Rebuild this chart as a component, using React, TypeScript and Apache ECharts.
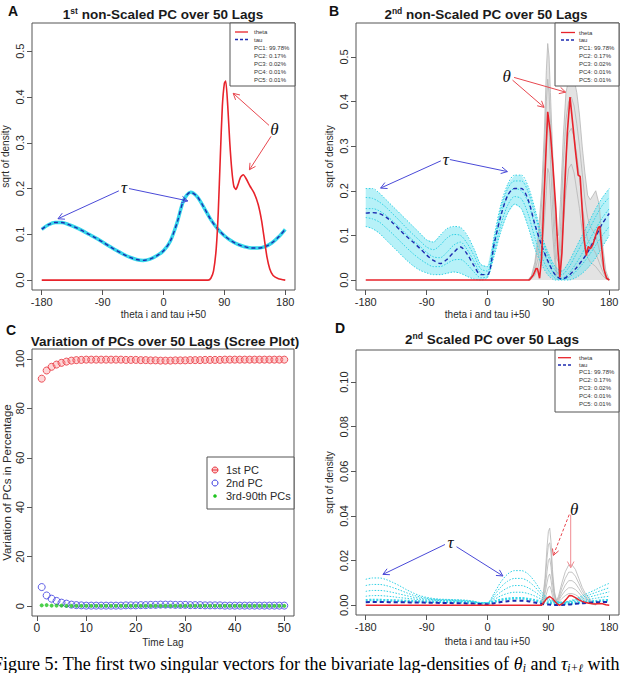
import { useEffect, useRef } from "react";
import * as echarts from "echarts";

const SANS = "'Liberation Sans', Arial, Helvetica, sans-serif";
const SERIF = "'Liberation Serif', 'Times New Roman', serif";

const RED = "#e8232b";
const CYAN = "#35d6ea";
const CYAN_DOT = "#2fd0e4";
const NAVY = "#1c2bb0";
const GREY = "#b5b5b5";
const ARROW_RED = "#e8474f";
const ARROW_PINK = "#f08c92";
const ARROW_BLUE = "#4a4ad8";
const TEXT = "#2a2a2a";
const BOX = "#555";

// angle grid in degrees (theta i and tau i+50)
const ANGLES = [
  -180, -170, -160, -150, -140, -130, -120, -110, -100,
  -90, -80, -70, -60, -50, -40, -30, -20, -10,
  0, 10, 20, 30, 40, 50, 60, 70, 80,
  90, 100, 110, 120, 130, 140, 150, 160, 170,
  180,
];

// ---- A: 1st non-scaled PC ----
const A_TAU = [
  0.111, 0.121, 0.126, 0.126, 0.121, 0.115, 0.108, 0.100, 0.092,
  0.083, 0.074, 0.065, 0.057, 0.050, 0.045, 0.043, 0.046, 0.053,
  0.064, 0.085, 0.125, 0.175, 0.192, 0.182, 0.158, 0.132, 0.112,
  0.097, 0.086, 0.078, 0.073, 0.070, 0.070, 0.073, 0.081, 0.094,
  0.111,
];
const A_THETA_X = [-180, 66, 70, 74, 78, 81, 84, 87, 90, 92, 95, 98, 101, 104, 107, 110, 114, 118, 122, 128, 134, 140, 145, 149, 153, 157, 162, 170, 180];
const A_THETA_Y = [0, 0, 0.004, 0.02, 0.07, 0.15, 0.27, 0.38, 0.43, 0.435, 0.38, 0.3, 0.24, 0.205, 0.198, 0.208, 0.225, 0.23, 0.222, 0.205, 0.19, 0.165, 0.13, 0.09, 0.05, 0.025, 0.01, 0.003, 0];

// ---- B: 2nd non-scaled PC ----
const B_TAU_MEAN = [
  0.150, 0.151, 0.149, 0.141, 0.128, 0.113, 0.098, 0.085, 0.071,
  0.056, 0.044, 0.037, 0.046, 0.062, 0.074, 0.058, 0.032, 0.012,
  0.012, 0.082, 0.145, 0.190, 0.205, 0.205, 0.180, 0.125, 0.078,
  0.040, 0.012, 0.002, 0.010, 0.025, 0.044, 0.067, 0.097, 0.127,
  0.149,
];
const B_TAU_UPPER = [
  0.205, 0.205, 0.195, 0.180, 0.165, 0.150, 0.135, 0.120, 0.105,
  0.090, 0.085, 0.100, 0.115, 0.120, 0.118, 0.100, 0.070, 0.035,
  0.030, 0.100, 0.170, 0.215, 0.235, 0.235, 0.210, 0.160, 0.100,
  0.060, 0.030, 0.020, 0.040, 0.070, 0.100, 0.130, 0.160, 0.185,
  0.205,
];
const B_TAU_MID1 = [
  0.185, 0.183, 0.175, 0.163, 0.148, 0.133, 0.117, 0.102, 0.088,
  0.074, 0.068, 0.078, 0.094, 0.102, 0.100, 0.082, 0.055, 0.025,
  0.020, 0.090, 0.160, 0.205, 0.222, 0.222, 0.198, 0.148, 0.092,
  0.052, 0.022, 0.012, 0.028, 0.055, 0.083, 0.112, 0.142, 0.168,
  0.185,
];
const B_TAU_MID2 = [
  0.160, 0.160, 0.155, 0.145, 0.132, 0.118, 0.103, 0.089, 0.076,
  0.062, 0.052, 0.050, 0.062, 0.078, 0.085, 0.068, 0.042, 0.015,
  0.012, 0.080, 0.148, 0.190, 0.205, 0.200, 0.175, 0.120, 0.075,
  0.038, 0.010, 0.004, 0.015, 0.035, 0.060, 0.088, 0.115, 0.140,
  0.160,
];
const B_TAU_MID3 = [
  0.140, 0.137, 0.130, 0.117, 0.103, 0.088, 0.073, 0.059, 0.047,
  0.037, 0.030, 0.030, 0.037, 0.045, 0.046, 0.035, 0.018, 0.005,
  0.008, 0.065, 0.125, 0.168, 0.187, 0.182, 0.148, 0.095, 0.052,
  0.022, 0.004, 0.001, 0.006, 0.018, 0.035, 0.055, 0.078, 0.100,
  0.120,
];
const B_TAU_LOWER = [
  0.120, 0.115, 0.105, 0.090, 0.075, 0.060, 0.045, 0.032, 0.022,
  0.016, 0.012, 0.012, 0.015, 0.018, 0.015, 0.008, 0.002, 0.000,
  0.005, 0.055, 0.110, 0.150, 0.170, 0.160, 0.120, 0.070, 0.035,
  0.010, 0.000, 0.000, 0.000, 0.005, 0.015, 0.030, 0.050, 0.075,
  0.100,
];
const B_THETA_X = [-180, 62, 68, 72, 74, 77, 80, 84, 89, 93, 97, 101, 104, 107, 110, 114, 118, 122, 126, 130, 134, 137, 140, 143, 146, 149, 152, 156, 160, 164, 166, 169, 172, 176, 180];
const B_THETA_Y = [0, 0, 0.012, 0.026, 0.025, 0.004, 0.05, 0.2, 0.377, 0.33, 0.25, 0.16, 0.07, 0.006, 0.06, 0.2, 0.33, 0.41, 0.35, 0.29, 0.235, 0.232, 0.157, 0.09, 0.055, 0.075, 0.07, 0.08, 0.1, 0.118, 0.12, 0.07, 0.025, 0.004, 0];
const B_LAG_X = [60, 65, 70, 75, 80, 84, 87, 89, 91, 93, 96, 99, 102, 105, 108, 112, 116, 120, 124, 128, 132, 136, 140, 144, 148, 152, 156, 160, 165, 170, 175, 180];
const B_LAG_1 = [0, 0.01, 0.04, 0.10, 0.20, 0.33, 0.47, 0.53, 0.50, 0.42, 0.30, 0.18, 0.10, 0.10, 0.18, 0.32, 0.42, 0.45, 0.46, 0.45, 0.42, 0.37, 0.30, 0.24, 0.19, 0.18, 0.19, 0.20, 0.17, 0.08, 0.02, 0];
const B_LAG_2 = [0, 0.008, 0.03, 0.08, 0.17, 0.28, 0.40, 0.45, 0.42, 0.35, 0.24, 0.13, 0.05, 0.04, 0.12, 0.26, 0.36, 0.40, 0.41, 0.39, 0.35, 0.30, 0.24, 0.18, 0.14, 0.12, 0.11, 0.10, 0.07, 0.035, 0.01, 0];
const B_LAG_3 = [0, 0.005, 0.02, 0.05, 0.12, 0.21, 0.31, 0.36, 0.34, 0.27, 0.17, 0.08, 0.02, 0.01, 0.07, 0.18, 0.28, 0.33, 0.34, 0.32, 0.28, 0.23, 0.17, 0.12, 0.09, 0.08, 0.07, 0.06, 0.04, 0.02, 0.005, 0];
const B_LAG_4 = [0, 0.003, 0.01, 0.03, 0.07, 0.13, 0.20, 0.25, 0.24, 0.19, 0.11, 0.05, 0.01, 0.005, 0.04, 0.12, 0.20, 0.25, 0.26, 0.24, 0.20, 0.16, 0.11, 0.07, 0.05, 0.04, 0.035, 0.03, 0.02, 0.01, 0.003, 0];

// ---- C: scree plot ----
const PC1 = [
  92.0, 95.3, 96.8, 97.7, 98.4, 98.9, 99.3, 99.5, 99.6, 99.7,
  99.7, 99.7, 99.7, 99.7, 99.7, 99.7, 99.7, 99.6, 99.6, 99.6,
  99.5, 99.5, 99.4, 99.4, 99.3, 99.3, 99.3, 99.4, 99.4, 99.4,
  99.5, 99.5, 99.5, 99.6, 99.6, 99.6, 99.6, 99.7, 99.7, 99.7,
  99.7, 99.7, 99.7, 99.7, 99.7, 99.7, 99.7, 99.7, 99.7, 99.7,
];
const PC2 = [
  7.7, 4.3, 3.0, 2.1, 1.4, 1.0, 0.6, 0.4, 0.3, 0.2,
  0.2, 0.2, 0.2, 0.2, 0.2, 0.2, 0.2, 0.3, 0.3, 0.3,
  0.4, 0.4, 0.5, 0.5, 0.6, 0.6, 0.6, 0.5, 0.5, 0.5,
  0.4, 0.4, 0.4, 0.3, 0.3, 0.3, 0.3, 0.2, 0.2, 0.2,
  0.2, 0.2, 0.2, 0.2, 0.2, 0.2, 0.2, 0.2, 0.2, 0.2,
];
const PC_REST = [
  0.3, 0.4, 0.2, 0.2, 0.2, 0.1, 0.1, 0.1, 0.1, 0.1,
  0.1, 0.1, 0.1, 0.1, 0.1, 0.1, 0.1, 0.1, 0.1, 0.1,
  0.1, 0.1, 0.1, 0.1, 0.1, 0.1, 0.1, 0.1, 0.1, 0.1,
  0.1, 0.1, 0.1, 0.1, 0.1, 0.1, 0.1, 0.1, 0.1, 0.1,
  0.1, 0.1, 0.1, 0.1, 0.1, 0.1, 0.1, 0.1, 0.1, 0.1,
];

// ---- D: 2nd scaled PC ----
const D_TAU_MEAN = [
  0.0013, 0.0014, 0.0014, 0.0014, 0.0013, 0.0013, 0.0013, 0.0012, 0.0012,
  0.0011, 0.0011, 0.0010, 0.0010, 0.0009, 0.0009, 0.0008, 0.0007, 0.0005,
  0.0004, 0.0009, 0.0014, 0.0018, 0.0020, 0.0020, 0.0018, 0.0012, 0.0006,
  0.0003, 0.0001, 0.0001, 0.0003, 0.0006, 0.0009, 0.0011, 0.0013, 0.0014,
  0.0015,
];
const D_TAU_1 = [
  0.0116, 0.0122, 0.0122, 0.0115, 0.0102, 0.0087, 0.0070, 0.0055, 0.0043,
  0.0035, 0.0030, 0.0027, 0.0026, 0.0025, 0.0024, 0.0022, 0.0018, 0.0012,
  0.0012, 0.0055, 0.0105, 0.0140, 0.0155, 0.0155, 0.0140, 0.0105, 0.0060,
  0.0030, 0.0018, 0.0014, 0.0018, 0.0028, 0.0042, 0.0056, 0.0070, 0.0085,
  0.0098,
];
const D_TAU_2 = [
  0.0088, 0.0093, 0.0093, 0.0088, 0.0079, 0.0068, 0.0056, 0.0045, 0.0037,
  0.0031, 0.0027, 0.0025, 0.0024, 0.0023, 0.0022, 0.0020, 0.0016, 0.0011,
  0.0011, 0.0045, 0.0082, 0.0108, 0.0120, 0.0120, 0.0108, 0.0082, 0.0048,
  0.0026, 0.0016, 0.0013, 0.0016, 0.0024, 0.0035, 0.0046, 0.0057, 0.0068,
  0.0078,
];
const D_TAU_3 = [
  0.0062, 0.0066, 0.0066, 0.0063, 0.0057, 0.0050, 0.0043, 0.0036, 0.0031,
  0.0027, 0.0025, 0.0023, 0.0022, 0.0021, 0.0020, 0.0018, 0.0015, 0.0010,
  0.0010, 0.0035, 0.0060, 0.0078, 0.0088, 0.0088, 0.0078, 0.0060, 0.0037,
  0.0022, 0.0014, 0.0012, 0.0014, 0.0020, 0.0028, 0.0036, 0.0044, 0.0052,
  0.0060,
];
const D_TAU_4 = [
  0.0040, 0.0043, 0.0043, 0.0041, 0.0038, 0.0034, 0.0031, 0.0028, 0.0025,
  0.0023, 0.0022, 0.0021, 0.0020, 0.0019, 0.0018, 0.0016, 0.0013, 0.0009,
  0.0009, 0.0026, 0.0042, 0.0053, 0.0058, 0.0058, 0.0052, 0.0041, 0.0027,
  0.0017, 0.0012, 0.0010, 0.0012, 0.0016, 0.0021, 0.0026, 0.0031, 0.0036,
  0.0040,
];
const D_TAU_5 = [
  0.0022, 0.0023, 0.0023, 0.0022, 0.0021, 0.0020, 0.0019, 0.0018, 0.0017,
  0.0016, 0.0015, 0.0015, 0.0014, 0.0014, 0.0013, 0.0012, 0.0010, 0.0007,
  0.0007, 0.0016, 0.0024, 0.0029, 0.0031, 0.0031, 0.0028, 0.0022, 0.0015,
  0.0010, 0.0008, 0.0007, 0.0008, 0.0010, 0.0013, 0.0016, 0.0018, 0.0021,
  0.0022,
];
const D_THETA_X = [-180, 80, 84, 88, 92, 96, 100, 104, 107, 111, 116, 121, 125, 130, 135, 140, 145, 150, 155, 160, 165, 170, 175, 180];
const D_THETA_Y = [0, 0, 0.0015, 0.0032, 0.0039, 0.003, 0.0015, 0.0003, 0, 0.0008, 0.0025, 0.0043, 0.0042, 0.0034, 0.0024, 0.0017, 0.0012, 0.0009, 0.0006, 0.0005, 0.0008, 0.0006, 0.0002, 0];
const D_LAG_X = [78, 82, 85, 88, 90, 92, 94, 96, 99, 102, 105, 110, 115, 120, 125, 130, 135, 140, 145, 150, 155, 160];
const D_LAG_1 = [0, 0.004, 0.012, 0.026, 0.033, 0.0345, 0.028, 0.016, 0.006, 0.002, 0.004, 0.010, 0.015, 0.018, 0.018, 0.016, 0.012, 0.008, 0.005, 0.003, 0.0015, 0.0005];
const D_LAG_2 = [0, 0.003, 0.010, 0.021, 0.027, 0.028, 0.023, 0.013, 0.005, 0.002, 0.003, 0.008, 0.012, 0.0148, 0.0148, 0.013, 0.0098, 0.0065, 0.004, 0.0025, 0.0012, 0.0004];
const D_LAG_3 = [0, 0.002, 0.007, 0.015, 0.020, 0.021, 0.017, 0.010, 0.004, 0.0015, 0.0025, 0.006, 0.009, 0.011, 0.011, 0.0098, 0.0075, 0.005, 0.0032, 0.002, 0.001, 0.0003];
const D_LAG_4 = [0, 0.0015, 0.005, 0.010, 0.013, 0.014, 0.011, 0.0065, 0.003, 0.001, 0.002, 0.0045, 0.0065, 0.0078, 0.0078, 0.007, 0.0055, 0.0037, 0.0024, 0.0015, 0.0008, 0.0002];
const D_LAG_5 = [0, 0.001, 0.003, 0.006, 0.008, 0.0085, 0.007, 0.0042, 0.002, 0.0008, 0.0014, 0.003, 0.0043, 0.0052, 0.0052, 0.0047, 0.0037, 0.0025, 0.0016, 0.001, 0.0005, 0.0001];

// legend texts and ticks
const PC_LEGEND = ["theta", "tau", "PC1: 99.78%", "PC2: 0.17%", "PC3: 0.02%", "PC4: 0.01%", "PC5: 0.01%"];
const SCREE_LEGEND = ["1st PC", "2nd PC", "3rd-90th PCs"];
const ANGLE_TICKS = [-180, -90, 0, 90, 180];
const LAG_TICKS = [0, 10, 20, 30, 40, 50];
const PCT_TICKS = [0, 20, 40, 60, 80, 100];
const DENS_TICKS = [0, 0.1, 0.2, 0.3, 0.4, 0.5];
const SCALED_TICKS = [0, 0.02, 0.04, 0.06, 0.08, 0.1];

// annotation arrows, in data units of each grid
const ARROWS = [
  { g: 0, from: [156, 0.338], to: [103, 0.408], color: ARROW_RED },
  { g: 0, from: [159, 0.314], to: [127, 0.241], color: ARROW_RED },
  { g: 0, from: [-51, 0.2], to: [36, 0.173], color: ARROW_BLUE },
  { g: 0, from: [-66, 0.195], to: [-156, 0.134], color: ARROW_BLUE },
  { g: 1, from: [37, 0.448], to: [83.6, 0.387], color: ARROW_RED },
  { g: 1, from: [39.3, 0.454], to: [115.5, 0.421], color: ARROW_RED },
  { g: 1, from: [-69, 0.267], to: [-158, 0.206], color: ARROW_BLUE },
  { g: 1, from: [-55.7, 0.27], to: [29.4, 0.243], color: ARROW_BLUE },
  { g: 3, from: [120.8, 0.0406], to: [97.3, 0.0223], color: ARROW_RED, dashed: true },
  { g: 3, from: [123, 0.0406], to: [123, 0.0168], color: ARROW_PINK },
  { g: 3, from: [-62.9, 0.0272], to: [-154.6, 0.0138], color: ARROW_BLUE },
  { g: 3, from: [-45.8, 0.0262], to: [22.8, 0.0131], color: ARROW_BLUE },
];
const GREEK = [
  { g: 0, text: "θ", at: [164, 0.33] },
  { g: 0, text: "τ", at: [-58.5, 0.202] },
  { g: 1, text: "θ", at: [28.4, 0.457] },
  { g: 1, text: "τ", at: [-61.6, 0.27] },
  { g: 3, text: "θ", at: [128, 0.0429] },
  { g: 3, text: "τ", at: [-54.6, 0.028] },
];

const pairs = (xs: number[], ys: number[]) => xs.map((x, i) => [x, ys[i]]);

function line(axis: number, xs: number[], ys: number[], lineStyle: any, extra: any = {}) {
  return {
    type: "line",
    xAxisIndex: axis,
    yAxisIndex: axis,
    data: pairs(xs, ys),
    symbol: "none",
    showSymbol: false,
    silent: true,
    lineStyle,
    ...extra,
  };
}

function band(axis: number, xs: number[], upper: number[], lower: number[] | null, fill: string, opacity: number) {
  return {
    type: "custom",
    xAxisIndex: axis,
    yAxisIndex: axis,
    silent: true,
    data: [[xs[0], upper[0]]],
    renderItem: (_p: any, api: any) => {
      const top = xs.map((x, i) => api.coord([x, upper[i]]));
      const bottom = xs
        .map((x, i) => api.coord([x, lower ? lower[i] : 0]))
        .reverse();
      return {
        type: "polygon",
        shape: { points: top.concat(bottom) },
        style: { fill, opacity },
      };
    },
  };
}

function xAxis(i: number, min: number, max: number, ticks: number[], name: string, gap: number, fs: number) {
  return {
    type: "value",
    gridIndex: i,
    min,
    max,
    axisLine: { show: false, onZero: false },
    axisTick: { show: true, length: 5, lineStyle: { color: BOX }, customValues: ticks },
    axisLabel: { customValues: ticks, fontSize: fs, color: TEXT, fontFamily: SANS, margin: 6, hideOverlap: false },
    splitLine: { show: false },
    name,
    nameLocation: "middle",
    nameGap: gap,
    nameTextStyle: { fontSize: 10, color: TEXT, fontFamily: SANS },
  };
}

function yAxis(i: number, min: number, max: number, ticks: number[], digits: number, name: string, gap: number, fs: number, nfs: number) {
  return {
    type: "value",
    gridIndex: i,
    min,
    max,
    axisLine: { show: false, onZero: false },
    axisTick: { show: true, length: 5, lineStyle: { color: BOX }, customValues: ticks },
    axisLabel: {
      customValues: ticks,
      rotate: 90,
      fontSize: fs,
      color: TEXT,
      fontFamily: SANS,
      margin: 7,
      hideOverlap: false,
      formatter: (v: number) => v.toFixed(digits),
    },
    splitLine: { show: false },
    name,
    nameLocation: "middle",
    nameGap: gap,
    nameTextStyle: { fontSize: nfs, color: TEXT, fontFamily: SANS },
  };
}

function buildOption() {
  const tauDash = { color: NAVY, width: 1.4, type: [4, 3] };
  const cyanDot = { color: CYAN_DOT, width: 1, type: [1.5, 1.5] };
  const greyLine = { color: GREY, width: 0.8 };
  const lags = PC1.map((_, i) => i + 1);
  const series: any[] = [
    // A
    line(0, ANGLES, A_TAU, { color: CYAN, width: 3.5 }, { smooth: 0.3 }),
    line(0, ANGLES, A_TAU, tauDash, { smooth: 0.3 }),
    line(0, A_THETA_X, A_THETA_Y, { color: RED, width: 1.6 }, { smooth: 0.2 }),
    // B
    band(1, B_LAG_X, B_LAG_1, null, "#c8c8c8", 0.5),
    line(1, B_LAG_X, B_LAG_1, greyLine),
    line(1, B_LAG_X, B_LAG_2, greyLine),
    line(1, B_LAG_X, B_LAG_3, greyLine),
    line(1, B_LAG_X, B_LAG_4, greyLine),
    band(1, ANGLES, B_TAU_UPPER, B_TAU_LOWER, "#6fe4f2", 0.5),
    line(1, ANGLES, B_TAU_UPPER, cyanDot, { smooth: 0.3 }),
    line(1, ANGLES, B_TAU_MID1, cyanDot, { smooth: 0.3 }),
    line(1, ANGLES, B_TAU_MID2, cyanDot, { smooth: 0.3 }),
    line(1, ANGLES, B_TAU_MID3, cyanDot, { smooth: 0.3 }),
    line(1, ANGLES, B_TAU_LOWER, cyanDot, { smooth: 0.3 }),
    line(1, ANGLES, B_TAU_MEAN, tauDash, { smooth: 0.3 }),
    line(1, B_THETA_X, B_THETA_Y, { color: RED, width: 1.6 }),
    // C
    {
      type: "scatter",
      xAxisIndex: 2,
      yAxisIndex: 2,
      silent: true,
      data: pairs(lags, PC1),
      symbol: "circle",
      symbolSize: 7,
      itemStyle: { color: "rgba(250,140,145,0.45)", borderColor: "#e8303a", borderWidth: 1 },
    },
    {
      type: "scatter",
      xAxisIndex: 2,
      yAxisIndex: 2,
      silent: true,
      data: pairs(lags, PC2),
      symbol: "circle",
      symbolSize: 7,
      itemStyle: { color: "rgba(255,255,255,0)", borderColor: "#3838e0", borderWidth: 1 },
    },
    {
      type: "scatter",
      xAxisIndex: 2,
      yAxisIndex: 2,
      silent: true,
      data: pairs(lags, PC_REST),
      symbol: "circle",
      symbolSize: 4,
      itemStyle: { color: "#1fc41f" },
    },
    // D
    line(3, D_LAG_X, D_LAG_1, greyLine),
    line(3, D_LAG_X, D_LAG_2, greyLine),
    line(3, D_LAG_X, D_LAG_3, greyLine),
    line(3, D_LAG_X, D_LAG_4, greyLine),
    line(3, D_LAG_X, D_LAG_5, greyLine),
    line(3, ANGLES, D_TAU_1, cyanDot, { smooth: 0.3 }),
    line(3, ANGLES, D_TAU_2, cyanDot, { smooth: 0.3 }),
    line(3, ANGLES, D_TAU_3, cyanDot, { smooth: 0.3 }),
    line(3, ANGLES, D_TAU_4, cyanDot, { smooth: 0.3 }),
    line(3, ANGLES, D_TAU_5, { color: CYAN, width: 2.5, type: [2, 1.5] }, { smooth: 0.3 }),
    line(3, ANGLES, D_TAU_MEAN, { color: NAVY, width: 2, type: [4, 3] }, { smooth: 0.3 }),
    line(3, D_THETA_X, D_THETA_Y, { color: RED, width: 1.5 }),
  ];

  const grid = (left: number, top: number, width: number, height: number) => ({
    left,
    top,
    width,
    height,
    show: true,
    borderColor: BOX,
    borderWidth: 1,
    backgroundColor: "transparent",
    containLabel: false,
    outerBoundsMode: "none",
  });

  return {
    animation: false,
    backgroundColor: "#ffffff",
    textStyle: { fontFamily: SANS },
    grid: [grid(32, 23, 263, 267), grid(356, 23, 263, 267), grid(32, 349, 262, 267), grid(356, 350, 263, 265)],
    xAxis: [
      xAxis(0, -194.4, 194.4, ANGLE_TICKS, "theta i and tau i+50", 19, 11),
      xAxis(1, -194.4, 194.4, ANGLE_TICKS, "theta i and tau i+50", 19, 11),
      xAxis(2, -0.96, 51.96, LAG_TICKS, "Time Lag", 21, 12),
      xAxis(3, -194.4, 194.4, ANGLE_TICKS, "theta i and tau i+50", 21, 11),
    ],
    yAxis: [
      yAxis(0, -0.0216, 0.5616, DENS_TICKS, 1, "sqrt of density", 22, 11, 10),
      yAxis(1, -0.0224, 0.576, DENS_TICKS, 1, "sqrt of density", 22, 11, 10),
      yAxis(2, -4, 104, PCT_TICKS, 0, "Variation of PCs in Percentage", 18, 11, 11.5),
      yAxis(3, -0.0044, 0.1144, SCALED_TICKS, 2, "sqrt of density", 22, 11, 10),
    ],
    series,
  };
}

function textEl(x: number, y: number, text: string, font: any, align = "left", vAlign = "middle", z = 20) {
  return {
    type: "text",
    x,
    y,
    z,
    silent: true,
    style: {
      text,
      ...font,
      align,
      verticalAlign: vAlign,
      textAlign: align,
      textVerticalAlign: vAlign,
    },
  };
}

function richTitle(x: number, y: number, lead: string, sup: string, rest: string) {
  const main = { fontSize: 13.5, fontWeight: "bold", fontFamily: SANS, fill: "#1a1a1a", color: "#1a1a1a", lineHeight: 16 };
  return {
    type: "text",
    x,
    y,
    z: 20,
    silent: true,
    style: {
      text: sup ? `{m|${lead}}{s|${sup}}{m|${rest}}` : `{m|${lead}}`,
      rich: {
        m: main,
        s: { ...main, fontSize: 8.5, verticalAlign: "top", lineHeight: 16 },
      },
      align: "center",
      verticalAlign: "middle",
      textAlign: "center",
      textVerticalAlign: "middle",
    },
  };
}

function pcLegend(left: number, top: number, right: number, bottom: number, lineX0: number, lineX1: number, textX: number, rows: number[]) {
  const els: any[] = [
    {
      type: "rect",
      z: 15,
      silent: true,
      shape: { x: left, y: top, width: right - left, height: bottom - top },
      style: { fill: "#ffffff", stroke: BOX, lineWidth: 1 },
    },
    {
      type: "line",
      z: 16,
      silent: true,
      shape: { x1: lineX0, y1: rows[0], x2: lineX1, y2: rows[0] },
      style: { stroke: RED, lineWidth: 1.3 },
    },
    {
      type: "line",
      z: 16,
      silent: true,
      shape: { x1: lineX0, y1: rows[1], x2: lineX1, y2: rows[1] },
      style: { stroke: NAVY, lineWidth: 1.3, lineDash: [3, 2] },
    },
  ];
  PC_LEGEND.forEach((t, i) => {
    els.push(textEl(textX, rows[i], t, { fontSize: 6, fontFamily: SANS, fill: "#333" }, "left", "middle", 16));
  });
  return els;
}

function arrowEls(p0: number[], p1: number[], color: string, dashed: boolean) {
  const ang = Math.atan2(p1[1] - p0[1], p1[0] - p0[0]);
  const L = 7;
  const spread = (28 * Math.PI) / 180;
  const head = (s: number) => [p1[0] - L * Math.cos(ang + s), p1[1] - L * Math.sin(ang + s)];
  const h1 = head(spread);
  const h2 = head(-spread);
  const st = { stroke: color, lineWidth: 1, lineDash: dashed ? [3, 2] : null };
  return [
    { type: "line", z: 18, silent: true, shape: { x1: p0[0], y1: p0[1], x2: p1[0], y2: p1[1] }, style: st },
    { type: "line", z: 18, silent: true, shape: { x1: p1[0], y1: p1[1], x2: h1[0], y2: h1[1] }, style: { stroke: color, lineWidth: 1 } },
    { type: "line", z: 18, silent: true, shape: { x1: p1[0], y1: p1[1], x2: h2[0], y2: h2[1] }, style: { stroke: color, lineWidth: 1 } },
  ];
}

function buildGraphics(chart: any) {
  const els: any[] = [];
  const letter = { fontSize: 14, fontWeight: "bold", fontFamily: SANS, fill: "#111" };
  els.push(textEl(13, 11, "A", letter, "center"));
  els.push(textEl(334, 11, "B", letter, "center"));
  els.push(textEl(11, 330, "C", letter, "center"));
  els.push(textEl(340, 328, "D", letter, "center"));

  els.push(richTitle(163, 14, "1", "st", " non-Scaled PC over 50 Lags"));
  els.push(richTitle(486, 14, "2", "nd", " non-Scaled PC over 50 Lags"));
  els.push(richTitle(165, 341, "Variation of PCs over 50 Lags (Scree Plot)", "", ""));
  els.push(richTitle(492, 339, "2", "nd", " Scaled PC over 50 Lags"));

  els.push(...pcLegend(230, 23, 295, 86, 235, 248, 254, [32, 39.5, 47.5, 55.5, 63.5, 71.5, 79.5]));
  els.push(...pcLegend(555, 23, 619, 86, 561, 575, 579, [32.5, 40, 48, 56, 64, 72, 80]));
  els.push(...pcLegend(555, 350, 619, 412, 558, 571, 579, [357.7, 365, 372.3, 380, 387.7, 396, 404]));

  // scree legend
  els.push({
    type: "rect",
    z: 15,
    silent: true,
    shape: { x: 207, y: 457, width: 87, height: 52 },
    style: { fill: "#ffffff", stroke: BOX, lineWidth: 1 },
  });
  const legendY = [470, 483, 496];
  els.push({ type: "circle", z: 16, silent: true, shape: { cx: 215, cy: legendY[0], r: 3 }, style: { fill: "rgba(250,140,145,0.45)", stroke: "#e8303a", lineWidth: 1 } });
  els.push({ type: "line", z: 16, silent: true, shape: { x1: 212, y1: legendY[0], x2: 218, y2: legendY[0] }, style: { stroke: "#e8303a", lineWidth: 1 } });
  els.push({ type: "circle", z: 16, silent: true, shape: { cx: 215, cy: legendY[1], r: 3 }, style: { fill: "none", stroke: "#3838e0", lineWidth: 1 } });
  els.push({ type: "circle", z: 16, silent: true, shape: { cx: 215, cy: legendY[2], r: 1.8 }, style: { fill: "#1fc41f" } });
  SCREE_LEGEND.forEach((t, i) => {
    els.push(textEl(226, legendY[i], t, { fontSize: 11, fontFamily: SANS, fill: TEXT }, "left", "middle", 16));
  });

  // arrows and greek labels placed through each grid's scales
  ARROWS.forEach((a) => {
    const p0 = chart.convertToPixel({ gridIndex: a.g }, a.from);
    const p1 = chart.convertToPixel({ gridIndex: a.g }, a.to);
    if (p0 && p1) els.push(...arrowEls(p0, p1, a.color, !!(a as any).dashed));
  });
  GREEK.forEach((l) => {
    const p = chart.convertToPixel({ gridIndex: l.g }, l.at);
    if (p) {
      els.push(
        textEl(p[0], p[1], l.text, { fontSize: 17, fontStyle: "italic", fontFamily: SERIF, fill: "#111" }, "center", "middle", 19)
      );
    }
  });

  // caption line at the bottom edge
  const cap = { fontSize: 18, fontFamily: SERIF, fill: "#000", color: "#000", lineHeight: 20 };
  const capIt = { ...cap, fontStyle: "italic" };
  const capSub = { ...cap, fontSize: 11.5, fontStyle: "italic", verticalAlign: "bottom" };
  els.push({
    type: "text",
    x: -7,
    y: 664,
    z: 20,
    silent: true,
    style: {
      text: "{n|Figure 5: The first two singular vectors for the bivariate lag-densities of }{i|θ}{s|i}{n| and }{i|τ}{s|i+ℓ}{n| with}",
      rich: { n: cap, i: capIt, s: capSub },
      align: "left",
      verticalAlign: "middle",
      textAlign: "left",
      textVerticalAlign: "middle",
    },
  });
  return els;
}

export default function App() {
  const ref = useRef<HTMLDivElement>(null);
  useEffect(() => {
    const el = ref.current;
    if (!el) return;
    const chart = echarts.init(el, null, { renderer: "svg" });
    chart.setOption(buildOption() as any);
    chart.setOption({ graphic: buildGraphics(chart) } as any);
    return () => chart.dispose();
  }, []);
  return (
    <div
      ref={ref}
      style={{ position: "absolute", left: 0, top: 0, width: 626, height: 673, background: "#fff" }}
    />
  );
}
